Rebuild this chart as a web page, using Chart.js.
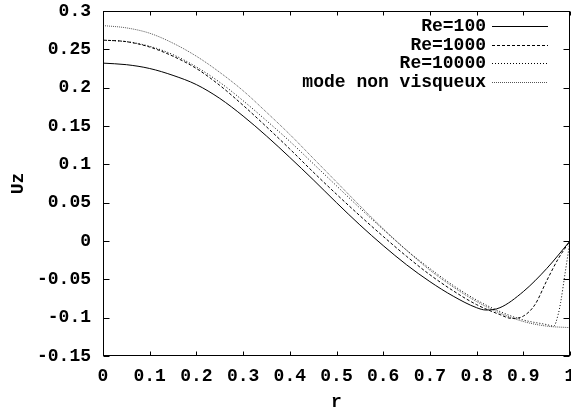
<!DOCTYPE html>
<html>
<head>
<meta charset="utf-8">
<script src="https://cdn.jsdelivr.net/npm/chart.js@4/dist/chart.umd.min.js"></script>
<style>
  html, body { margin: 0; padding: 0; background: #fff; }
  canvas { display: block; }
</style>
</head>
<body>
<canvas id="c" width="571" height="413"></canvas>
<script>
// Axial velocity profiles Uz(r) of the mode, for several Reynolds numbers
const seriesLabels = ['Re=100', 'Re=1000', 'Re=10000', 'mode non visqueux'];

const rRe100 = [0, 0.05, 0.1, 0.15, 0.2, 0.25, 0.3, 0.35, 0.4, 0.45, 0.5, 0.55, 0.6, 0.65, 0.7, 0.75, 0.8, 0.82, 0.85, 0.9, 0.95, 1];
const uzRe100 = [0.232, 0.230, 0.225, 0.216, 0.204, 0.186, 0.163, 0.137, 0.109, 0.080, 0.050, 0.021, -0.006, -0.031, -0.053, -0.072, -0.087, -0.090, -0.087, -0.066, -0.036, 0];

const rRe1000 = [0, 0.05, 0.1, 0.15, 0.2, 0.25, 0.3, 0.35, 0.4, 0.45, 0.5, 0.55, 0.6, 0.65, 0.7, 0.75, 0.8, 0.85, 0.875, 0.9, 0.925, 0.95, 0.975, 1];
const uzRe1000 = [0.262, 0.260, 0.253, 0.241, 0.225, 0.203, 0.177, 0.149, 0.120, 0.090, 0.061, 0.033, 0.006, -0.020, -0.044, -0.065, -0.083, -0.096, -0.101, -0.098, -0.083, -0.052, -0.023, 0];

const rRe10000 = [0, 0.05, 0.1, 0.15, 0.2, 0.25, 0.3, 0.35, 0.4, 0.45, 0.5, 0.55, 0.6, 0.65, 0.7, 0.75, 0.8, 0.85, 0.9, 0.95, 0.965, 0.975, 0.98, 0.99, 1];
const uzRe10000 = [0.262, 0.260, 0.254, 0.243, 0.227, 0.207, 0.183, 0.157, 0.130, 0.101, 0.072, 0.043, 0.015, -0.012, -0.036, -0.058, -0.077, -0.092, -0.103, -0.109, -0.111, -0.095, -0.080, -0.040, 0];

const rInviscid = [0, 0.05, 0.1, 0.15, 0.2, 0.25, 0.3, 0.35, 0.4, 0.45, 0.5, 0.55, 0.6, 0.65, 0.7, 0.75, 0.8, 0.85, 0.9, 0.95, 1];
const uzInviscid = [0.281, 0.278, 0.271, 0.258, 0.241, 0.220, 0.196, 0.168, 0.139, 0.108, 0.077, 0.046, 0.016, -0.012, -0.038, -0.060, -0.079, -0.094, -0.105, -0.111, -0.113];

const xTicks = [0, 0.1, 0.2, 0.3, 0.4, 0.5, 0.6, 0.7, 0.8, 0.9, 1];
const xTickLabels = ['0', '0.1', '0.2', '0.3', '0.4', '0.5', '0.6', '0.7', '0.8', '0.9', '1'];
const yTicks = [-0.15, -0.1, -0.05, 0, 0.05, 0.1, 0.15, 0.2, 0.25, 0.3];
const yTickLabels = ['-0.15', '-0.1', '-0.05', '0', '0.05', '0.1', '0.15', '0.2', '0.25', '0.3'];

const FONT = 'bold 18px "Liberation Mono", "DejaVu Sans Mono", monospace';
const fontSpec = { family: '"Liberation Mono", "DejaVu Sans Mono", monospace', size: 18, weight: 'bold' };

const toPoints = (rs, vs) => rs.map((r, i) => ({ x: r, y: vs[i] }));

// Box around the plot area with inward tick marks on all four sides
const frameTicks = {
  id: 'frameTicks',
  afterDatasetsDraw(chart) {
    const { ctx, chartArea: a, scales: { x, y } } = chart;
    const L = Math.round(a.left) + 0.5, R = Math.round(a.right) - 0.5;
    const T = Math.round(a.top) + 0.5, B = Math.round(a.bottom) - 0.5;
    ctx.save();
    ctx.strokeStyle = '#000';
    ctx.lineWidth = 1;
    ctx.beginPath();
    xTicks.forEach(v => {
      const px = Math.round(x.getPixelForValue(v)) + 0.5;
      ctx.moveTo(px, B); ctx.lineTo(px, B - 4);
      ctx.moveTo(px, T); ctx.lineTo(px, T + 4);
    });
    yTicks.forEach(v => {
      const py = Math.round(y.getPixelForValue(v)) + 0.5;
      ctx.moveTo(L, py); ctx.lineTo(L + 6, py);
      ctx.moveTo(R, py); ctx.lineTo(R - 6, py);
    });
    ctx.stroke();
    ctx.strokeRect(L, T, R - L, B - T);
    ctx.restore();
  }
};

// Key in the top right corner: right-aligned label followed by a line sample
const keyPlugin = {
  id: 'keyPlugin',
  afterDraw(chart) {
    const { ctx } = chart;
    const textRight = 486, lineStart = 492, lineEnd = 548, rowTop = 26, rowStep = 18.5;
    ctx.save();
    ctx.font = FONT;
    ctx.textAlign = 'right';
    ctx.textBaseline = 'middle';
    chart.data.datasets.forEach((ds, i) => {
      const yy = Math.round(rowTop + i * rowStep) + 0.5;
      ctx.fillStyle = '#000';
      ctx.fillText(ds.label, textRight, yy);
      ctx.strokeStyle = ds.borderColor;
      ctx.lineWidth = ds.borderWidth;
      ctx.setLineDash(ds.borderDash || []);
      ctx.beginPath();
      ctx.moveTo(lineStart, yy);
      ctx.lineTo(lineEnd, yy);
      ctx.stroke();
    });
    ctx.restore();
  }
};

const common = { fill: false, pointRadius: 0, borderWidth: 1, cubicInterpolationMode: 'monotone' };

new Chart(document.getElementById('c'), {
  type: 'line',
  data: {
    datasets: [
      { ...common, label: seriesLabels[0], data: toPoints(rRe100, uzRe100), borderColor: '#000', borderDash: [] },
      { ...common, label: seriesLabels[1], data: toPoints(rRe1000, uzRe1000), borderColor: '#000', borderDash: [3, 2] },
      { ...common, label: seriesLabels[2], data: toPoints(rRe10000, uzRe10000), borderColor: '#000', borderDash: [1, 2] },
      { ...common, label: seriesLabels[3], data: toPoints(rInviscid, uzInviscid), borderColor: '#555', borderDash: [1, 1] }
    ]
  },
  options: {
    responsive: false,
    animation: false,
    devicePixelRatio: 1,
    layout: { padding: { top: 11, right: 1, left: 0, bottom: 0 } },
    plugins: { legend: { display: false }, tooltip: { enabled: false } },
    scales: {
      x: {
        type: 'linear',
        min: 0, max: 1,
        afterBuildTicks: s => { s.ticks = xTicks.map(v => ({ value: v })); },
        afterFit: s => { s.height = 57; s.paddingLeft = 0; s.paddingRight = 0; },
        grid: { display: false, drawTicks: false },
        border: { display: false },
        ticks: {
          color: '#000', font: fontSpec, padding: 10, maxRotation: 0, autoSkip: false,
          callback: (v) => xTickLabels[xTicks.findIndex(t => Math.abs(t - v) < 1e-9)]
        },
        title: { display: true, text: 'r', color: '#000', font: fontSpec, padding: { top: 0, bottom: 0 } }
      },
      y: {
        type: 'linear',
        min: -0.15, max: 0.3,
        afterBuildTicks: s => { s.ticks = yTicks.map(v => ({ value: v })); },
        afterFit: s => { s.width = 103; s.paddingTop = 0; s.paddingBottom = 0; },
        grid: { display: false, drawTicks: false },
        border: { display: false },
        ticks: {
          color: '#000', font: fontSpec, padding: 12, autoSkip: false,
          callback: (v) => yTickLabels[yTicks.findIndex(t => Math.abs(t - v) < 1e-9)]
        },
        title: { display: true, text: 'Uz', color: '#000', font: fontSpec, padding: { top: 8, bottom: 0 } }
      }
    }
  },
  plugins: [frameTicks, keyPlugin]
});
</script>
</body>
</html>
